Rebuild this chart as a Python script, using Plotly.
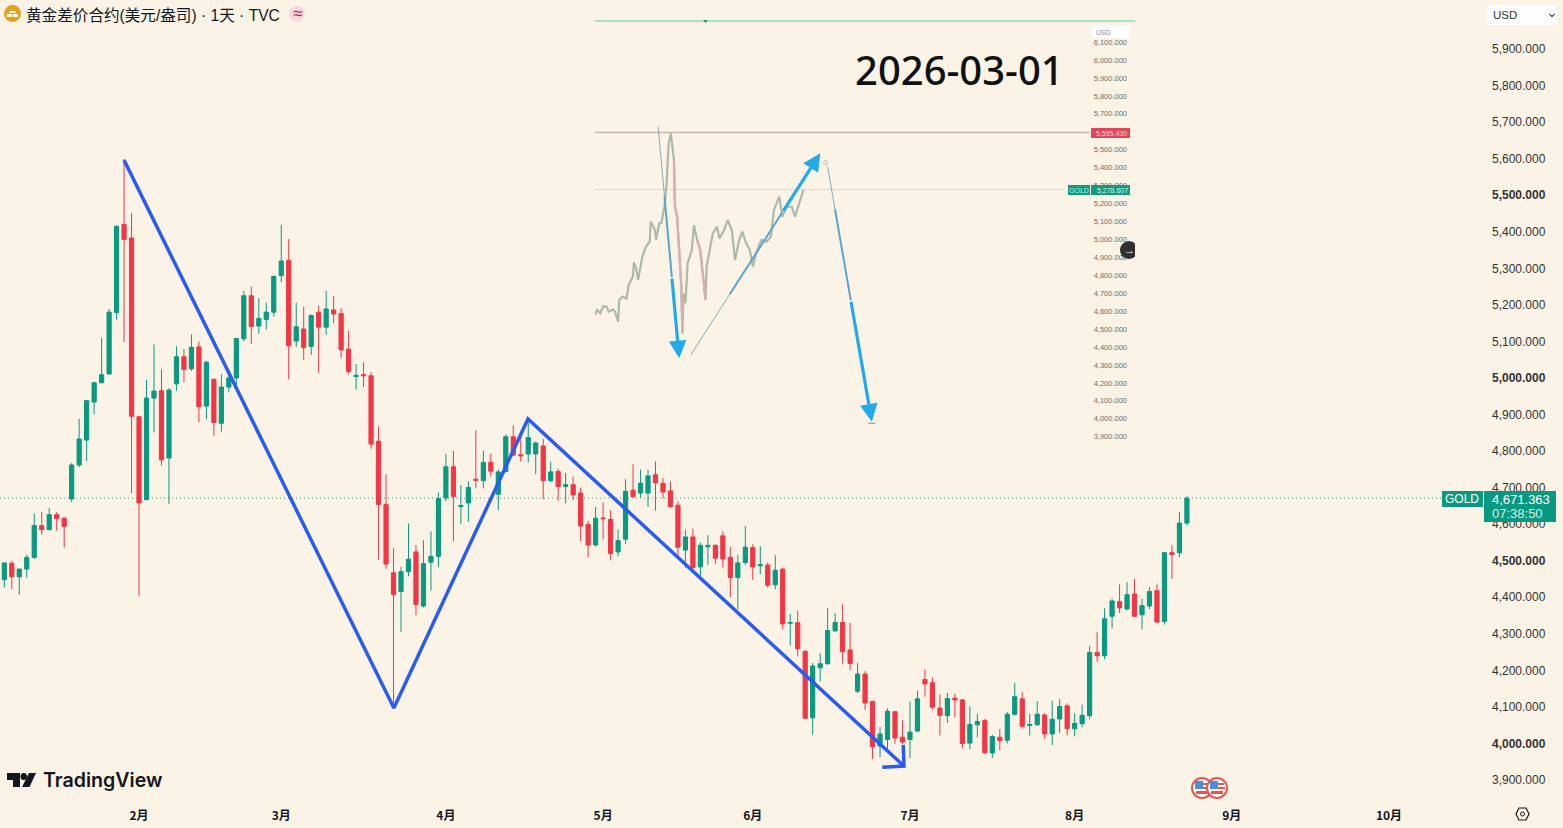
# Gold daily chart (TradingView style) with the pasted forecast picture on top
import plotly.graph_objects as go

# Page and plot area, in pixels
W, H = 1563, 828
PLOT_W, PLOT_H = 1484, 800

BG = '#FBF3E6'
UP = '#089981'
DOWN = '#F23645'
BLUE = '#2A5CF0'
SKY = '#22ABEA'

# Daily candles
opens = [
    4448, 4493, 4456, 4477, 4509, 4596, 4585, 4626, 4616, 4669,
    4762, 4830, 4934, 4987, 5011, 5179, 5420, 5383, 4894, 4667,
    4945, 4965, 4781, 4984, 5058, 5025, 5085, 4923, 4996, 4876,
    4975, 5000, 5107, 5225, 5142, 5160, 5180, 5280, 5322, 5101,
    5134, 5086, 5180, 5139, 5186, 5176, 5079, 5004, 5009, 5006,
    4827, 4654, 4467, 4416, 4470, 4524, 4376, 4496, 4512, 4672,
    4757, 4648, 4658, 4723, 4719, 4769, 4682, 4744, 4839, 4790,
    4792, 4792, 4814, 4719, 4744, 4703, 4708, 4685, 4599, 4543,
    4617, 4613, 4524, 4559, 4693, 4685, 4685, 4735, 4712, 4691,
    4652, 4529, 4565, 4483, 4538, 4542, 4568, 4509, 4454, 4495,
    4536, 4486, 4488, 4434, 4477, 4329, 4330, 4252, 4070, 4207,
    4218, 4308, 4331, 4256, 4143, 4190, 4115, 3993, 4011, 4087,
    4017, 4011, 4034, 4175, 4166, 4097, 4076, 4124, 4119, 4001,
    4051, 4063, 3974, 4017, 4009, 4080, 4122, 4049, 4051, 4078,
    4026, 4067, 4103, 4040, 4054, 4076, 4249, 4240, 4348, 4388,
    4368, 4409, 4352, 4376, 4418, 4334, 4522, 4522, 4603,
]
highs = [
    4494, 4500, 4479, 4516, 4630, 4634, 4644, 4633, 4620, 4767,
    4888, 4940, 4989, 5110, 5189, 5417, 5599, 5452, 4896, 4994,
    5092, 5024, 4972, 5087, 5079, 5119, 5100, 5047, 4999, 5010,
    5010, 5110, 5238, 5250, 5219, 5206, 5280, 5419, 5380, 5206,
    5195, 5174, 5197, 5238, 5224, 5191, 5129, 5038, 5043, 5016,
    4867, 4737, 4534, 4483, 4602, 4543, 4556, 4580, 4687, 4792,
    4800, 4707, 4717, 4857, 4801, 4793, 4750, 4846, 4871, 4839,
    4887, 4826, 4833, 4771, 4752, 4740, 4730, 4700, 4609, 4647,
    4659, 4638, 4586, 4723, 4764, 4749, 4749, 4772, 4726, 4717,
    4663, 4584, 4588, 4550, 4570, 4545, 4580, 4538, 4516, 4595,
    4545, 4540, 4495, 4515, 4480, 4354, 4363, 4256, 4220, 4247,
    4370, 4356, 4381, 4330, 4221, 4198, 4117, 4045, 4096, 4089,
    4063, 4115, 4144, 4203, 4180, 4134, 4138, 4136, 4121, 4102,
    4081, 4067, 4024, 4040, 4086, 4166, 4140, 4081, 4116, 4083,
    4117, 4121, 4110, 4083, 4106, 4267, 4304, 4370, 4396, 4435,
    4441, 4450, 4396, 4428, 4435, 4524, 4542, 4633, 4677,
]
lows = [
    4427, 4423, 4407, 4454, 4505, 4571, 4583, 4582, 4536, 4660,
    4756, 4773, 4900, 4985, 5009, 5159, 5098, 4685, 4403, 4665,
    4851, 4760, 4655, 4965, 4988, 5019, 4879, 4887, 4842, 4853,
    4961, 4979, 5100, 5093, 5121, 5132, 5168, 5262, 4996, 5085,
    5050, 5063, 5014, 5118, 5150, 5055, 5010, 4968, 4975, 4806,
    4503, 4478, 4110, 4305, 4457, 4351, 4372, 4418, 4482, 4663,
    4553, 4600, 4606, 4698, 4698, 4730, 4638, 4742, 4787, 4771,
    4769, 4737, 4668, 4714, 4664, 4657, 4666, 4554, 4510, 4539,
    4559, 4501, 4512, 4546, 4673, 4673, 4647, 4637, 4670, 4645,
    4513, 4481, 4468, 4459, 4489, 4491, 4481, 4401, 4367, 4488,
    4447, 4463, 4426, 4422, 4312, 4268, 4238, 4067, 4024, 4170,
    4216, 4306, 4218, 4201, 4138, 4092, 3958, 3962, 3985, 3999,
    3999, 3960, 4031, 4128, 4093, 4022, 4056, 4071, 3987, 3984,
    4017, 3970, 3960, 3982, 4000, 4076, 4041, 4022, 4049, 4013,
    3996, 4029, 4022, 4019, 4044, 4066, 4224, 4230, 4315, 4357,
    4364, 4346, 4312, 4368, 4331, 4325, 4450, 4510, 4596,
]
closes = [
    4494, 4456, 4477, 4509, 4596, 4585, 4626, 4615, 4594, 4762,
    4833, 4938, 4987, 5009, 5180, 5415, 5379, 4895, 4658, 4945,
    4964, 4776, 4967, 5058, 5023, 5084, 4921, 5043, 4878, 4975,
    5000, 5108, 5225, 5141, 5163, 5180, 5278, 5320, 5088, 5140,
    5083, 5171, 5139, 5189, 5175, 5077, 5018, 5007, 5006, 4819,
    4654, 4491, 4407, 4470, 4504, 4380, 4492, 4512, 4670, 4757,
    4676, 4651, 4700, 4720, 4769, 4745, 4743, 4839, 4789, 4787,
    4837, 4822, 4719, 4743, 4703, 4708, 4680, 4595, 4543, 4616,
    4615, 4520, 4555, 4690, 4675, 4712, 4732, 4713, 4688, 4648,
    4537, 4565, 4481, 4542, 4542, 4507, 4505, 4454, 4494, 4537,
    4483, 4489, 4433, 4474, 4327, 4331, 4259, 4069, 4212, 4218,
    4309, 4331, 4251, 4219, 4190, 4111, 3991, 4026, 4088, 4015,
    4004, 4031, 4122, 4163, 4099, 4077, 4123, 4119, 4000, 4052,
    4060, 3975, 4019, 4008, 4080, 4128, 4047, 4052, 4080, 4026,
    4066, 4101, 4040, 4055, 4077, 4249, 4240, 4341, 4390, 4371,
    4407, 4348, 4377, 4416, 4332, 4522, 4517, 4603, 4671,
]
bars = list(range(len(closes)))

last_price = 4671.363
month_bars = [18, 37, 59, 80, 100, 121, 143, 164, 185]
month_labels = ['2月', '3月', '4月', '5月', '6月', '7月', '8月', '9月', '10月']

price_ticks = list(range(3900, 6000, 100))
strong_ticks = [4000, 4500, 5000, 5500]

# Blue hand drawn zigzag on the main chart (bar, price)
zigzag_bars = [16.0, 52.05, 69.96, 120.2, 117.3, 120.2, 120.1]
zigzag_prices = [5596, 4097, 4888, 3938, 3935, 3938, 3996]

# Pasted picture: rough price path, picture's own bar scale
inset_bars = [
    0, 2, 5, 8, 11, 13, 17, 19, 22, 23, 26, 30, 32, 36, 37, 39, 41, 45, 48, 52,
    53, 57, 58, 61, 63, 66, 68, 70, 72, 74, 75, 76, 78, 80, 82, 83, 84, 86, 88, 92,
    94, 97, 100, 102, 105, 106, 109, 112, 116, 118, 122, 126, 130, 133, 137, 140,
    143, 147, 150, 153, 158, 163, 167, 170, 175, 178, 182, 187, 190, 193, 198,
]
inset_prices = [
    4579, 4607, 4588, 4629, 4625, 4597, 4610, 4597, 4541, 4662, 4681, 4670, 4746, 4792, 4872, 4839, 4774, 4904, 4956, 4987,
    5099, 5052, 4997, 5090, 5090, 5182, 5313, 5535, 5591, 5480, 5443, 5182, 5127, 4941, 4737, 4476, 4699, 4644, 4867, 4941,
    5080, 4997, 4941, 4829, 4662, 4848, 4941, 5034, 5071, 5006, 5043, 5108, 5052, 4885, 4997, 5043,
    4987, 4941, 4848, 4922, 4997, 4987, 5015, 5164, 5238, 5127, 5182, 5182, 5127, 5182, 5275,
]
inset_ticks = list(range(3900, 6200, 100))
inset_top_level = 6217
inset_high_level = 5595.43
inset_last_level = 5278.607

# Pasted picture: forecast arrows, each starts thin and gets thicker towards the tip
arrow_bars = [[60, 66, 73, 80], [91, 128, 178, 214], [221, 228, 243, 263]]
arrow_prices = [[5628, 5241, 4789, 4337], [4356, 4694, 5151, 5480], [5405, 5168, 4661, 3984]]


def px(x):
    return x / PLOT_W


def py(y):
    return (PLOT_H - y) / PLOT_H


def fmt(v):
    return f'{v:,.3f}'


fig = go.Figure()

fig.add_trace(go.Candlestick(
    x=bars, open=opens, high=highs, low=lows, close=closes,
    increasing=dict(line=dict(color=UP, width=1), fillcolor=UP),
    decreasing=dict(line=dict(color=DOWN, width=1), fillcolor=DOWN),
    whiskerwidth=0,
    xaxis='x', yaxis='y',
))
fig.add_trace(go.Scatter(
    x=zigzag_bars, y=zigzag_prices, mode='lines',
    line=dict(color=BLUE, width=3.5), xaxis='x', yaxis='y',
))

# Pasted picture, on its own axes
inset_end = 513
fig.add_trace(go.Scatter(x=[0, inset_end], y=[inset_top_level] * 2, mode='lines',
                         line=dict(color='#8CDDB0', width=1.5), xaxis='x2', yaxis='y2'))
fig.add_trace(go.Scatter(x=[105], y=[inset_top_level], mode='markers',
                         marker=dict(color='#2E8B57', size=4, symbol='triangle-down'),
                         xaxis='x2', yaxis='y2'))
fig.add_trace(go.Scatter(x=[0, 470], y=[inset_high_level] * 2, mode='lines',
                         line=dict(color='#C9B6AC', width=1.5), xaxis='x2', yaxis='y2'))
fig.add_trace(go.Scatter(x=[0, 445], y=[inset_last_level] * 2, mode='lines',
                         line=dict(color='#D5DACB', width=1), xaxis='x2', yaxis='y2'))
fig.add_trace(go.Scatter(x=inset_bars, y=inset_prices, mode='lines',
                         line=dict(color='#AEB9A8', width=2.2), xaxis='x2', yaxis='y2'))
# the falling stretches look pinker in the picture
for a, b in [(30, 36), (41, 45)]:
    fig.add_trace(go.Scatter(x=inset_bars[a:b], y=inset_prices[a:b], mode='lines',
                             line=dict(color='#D9AFAE', width=2.2), xaxis='x2', yaxis='y2'))
for xs, ys in zip(arrow_bars, arrow_prices):
    fig.add_trace(go.Scatter(x=xs[:2], y=ys[:2], mode='lines',
                             line=dict(color='#8FA9B3', width=1), xaxis='x2', yaxis='y2'))
    fig.add_trace(go.Scatter(x=xs[1:3], y=ys[1:3], mode='lines',
                             line=dict(color='#5AA5D0', width=2), xaxis='x2', yaxis='y2'))
fig.add_trace(go.Scatter(x=[219], y=[5428], mode='markers',
                         marker=dict(color=BG, size=4, line=dict(color='#C9B6AC', width=1)),
                         xaxis='x2', yaxis='y2'))
fig.add_trace(go.Scatter(x=[263], y=[3975], mode='markers',
                         marker=dict(color='#8A8A8A', size=5, symbol='line-ew', line=dict(color='#8A8A8A', width=1)),
                         xaxis='x2', yaxis='y2'))

annotations = []
for xs, ys in zip(arrow_bars, arrow_prices):
    annotations.append(dict(
        x=xs[3], y=ys[3], ax=xs[2], ay=ys[2],
        xref='x2', yref='y2', axref='x2', ayref='y2',
        text='', showarrow=True, arrowhead=2, arrowsize=1.1, arrowwidth=3.2,
        arrowcolor=SKY, standoff=0,
    ))


def label(text, x, y, size, color='#131722', xanchor='left', family='Liberation Sans', weight=None):
    font = dict(size=size, color=color, family=family)
    if weight:
        font['weight'] = weight
    annotations.append(dict(text=text, x=px(x), y=py(y), xref='paper', yref='paper',
                            xanchor=xanchor, yanchor='middle', showarrow=False, font=font))


# Header
label('黄金差价合约(美元/盎司) · 1天 · TVC', 24, 15, 15.6, family='Liberation Sans, Noto Sans CJK SC')
label('≈', 297, 14, 17, color='#C2185B', xanchor='center')

# Branding
label('TradingView', 41, 780, 19.6, family='Inter', weight=600)

# Pasted picture's texts
label('2026-03-01', 959, 69, 40, color='#111111', xanchor='center', family='Noto Sans', weight=500)
label('USD', 1094, 32, 7, color='#8A8F98')
label('→', 1129, 250, 11, color='#FFFFFF', xanchor='center')
label(fmt(inset_high_level), 1111, 133, 7, color='#F7D5D8', xanchor='center')
label('GOLD', 1079, 190, 7, color='#BFE5DC', xanchor='center')
label(fmt(inset_last_level), 1112, 190, 7, color='#D8F0EA', xanchor='center')

# Last price tags
label('USD', 1491, 15, 11.5, color='#333333')
label('GOLD', 1462, 499, 12, color='#FFFFFF', xanchor='center')
label(fmt(last_price), 1521, 499, 13, color='#FFFFFF', xanchor='center')
label('07:38:50', 1517, 513, 13, color='#D5F0EA', xanchor='center')


def rect(x0, y0, x1, y1, fill, line=None, kind='rect', width=1):
    return dict(type=kind, xref='paper', yref='paper', x0=px(x0), x1=px(x1), y0=py(y0), y1=py(y1),
                fillcolor=fill, line=dict(color=line or fill, width=width if line else 0), layer='above')


def poly(points, fill, line=None, width=1):
    path = 'M' + ' L'.join(f'{px(x):.5f},{py(y):.5f}' for x, y in points) + ' Z'
    return dict(type='path', xref='paper', yref='paper', path=path, fillcolor=fill,
                line=dict(color=line or fill, width=width if line else 0), layer='above')


shapes = [
    # faint band near the foot of the pasted picture
    dict(type='rect', xref='paper', yref='paper', x0=px(595), x1=px(835), y0=py(452), y1=py(425),
         fillcolor='#F8F1E4', line=dict(width=0), layer='below'),
    # last price dotted line
    dict(type='line', xref='paper', yref='y', x0=0, x1=1, y0=last_price, y1=last_price,
         line=dict(color='#3FA28C', width=1, dash='1px,3px'), layer='below'),
    # tags
    rect(1442, 491, 1483, 507, UP),
    rect(1484, 491, 1556, 522, UP),
    rect(1487, 5, 1557, 25, '#FFFFFF'),
    poly([(1549, 14), (1552, 17), (1555, 14), (1552, 16)], '#555555', '#555555'),
    # header icons
    rect(4, 5, 21, 22, '#E2A21B', kind='circle'),
    poly([(10, 11), (15, 11), (16, 13), (9, 13)], '#FFFFFF'),
    poly([(7, 14), (12, 14), (12, 17), (7, 17)], '#FFFFFF'),
    poly([(13, 14), (18, 14), (18, 17), (13, 17)], '#FFFFFF'),
    rect(289, 6, 305, 22, '#F8D7DC', kind='circle'),
    # TradingView mark
    poly([(7, 773), (20, 773), (20, 787), (13, 787), (13, 780), (7, 780)], '#131722'),
    rect(20.5, 773, 27, 780, '#131722', kind='circle'),
    poly([(29, 773), (36, 773), (29.5, 787), (22, 787)], '#131722'),
    # pasted picture's tags
    rect(1092, 26, 1130, 38, '#FFFFFF'),
    rect(1091, 128, 1130, 138, '#E0475C'),
    rect(1068, 185, 1090, 195, '#0F9D80'),
    rect(1091, 185, 1130, 195, '#0F9D80'),
    rect(1120, 241, 1138, 259, '#2F2F2F', kind='circle'),
    rect(1135, 238, 1141, 262, BG),
    # settings icon
    poly([(1516, 814), (1519, 808), (1526, 808), (1529, 814), (1526, 820), (1519, 820)], 'rgba(0,0,0,0)', '#131722', 1.2),
    rect(1520.5, 812, 1524.5, 816, 'rgba(0,0,0,0)', '#131722', kind='circle'),
]
# two US event flags
for cx in [1202, 1217]:
    shapes += [
        rect(cx - 10, 778, cx + 10, 798, '#FFFFFF', '#EF5350', kind='circle', width=2),
        rect(cx - 7, 781, cx + 1, 789, '#4C8DDB'),
        rect(cx + 1, 783, cx + 7, 785, '#EF5350'),
        rect(cx + 1, 787, cx + 8, 789, '#EF5350'),
        rect(cx - 6, 791, cx + 6, 794, '#EF5350'),
    ]

fig.update_layout(
    width=W, height=H,
    margin=dict(l=0, r=W - PLOT_W, t=0, b=H - PLOT_H, pad=0),
    autosize=False,
    paper_bgcolor=BG, plot_bgcolor=BG,
    showlegend=False,
    boxgap=0.2,
    annotations=annotations,
    shapes=shapes,
    xaxis=dict(
        domain=[0, 1], range=[-0.575, 197.69], rangeslider=dict(visible=False),
        showgrid=False, zeroline=False, showline=False, ticks='',
        tickmode='array', tickvals=month_bars,
        ticktext=[f'<b>{m}</b>' for m in month_labels],
        tickfont=dict(size=12, color='#131722', family='Noto Sans CJK SC'),
        ticklabelstandoff=7,
    ),
    yaxis=dict(
        domain=[0, 1], range=[3845.3, 6034.1], side='right',
        showgrid=False, zeroline=False, showline=False, ticks='',
        tickmode='array', tickvals=price_ticks,
        ticktext=[f'<b>{fmt(v)}</b>' if v in strong_ticks else fmt(v) for v in price_ticks],
        tickfont=dict(size=12, color='#333333', family='Liberation Sans'),
        ticklabelstandoff=7,
    ),
    xaxis2=dict(
        domain=[px(595), px(1135)], range=[0, inset_end], anchor='y2',
        visible=False, fixedrange=True,
    ),
    yaxis2=dict(
        domain=[py(455), py(20)], range=[3798, 6223], anchor='x2', side='right',
        showgrid=False, zeroline=False, showline=False, ticks='',
        ticklabelposition='inside', ticklabelstandoff=5,
        tickmode='array', tickvals=inset_ticks,
        ticktext=[fmt(v) for v in inset_ticks],
        tickfont=dict(size=7.5, color='#6E6E6E', family='Liberation Sans'),
    ),
)

fig.write_html("out.html", post_script="document.body.style.margin='0';",
               config=dict(displayModeBar=False))
